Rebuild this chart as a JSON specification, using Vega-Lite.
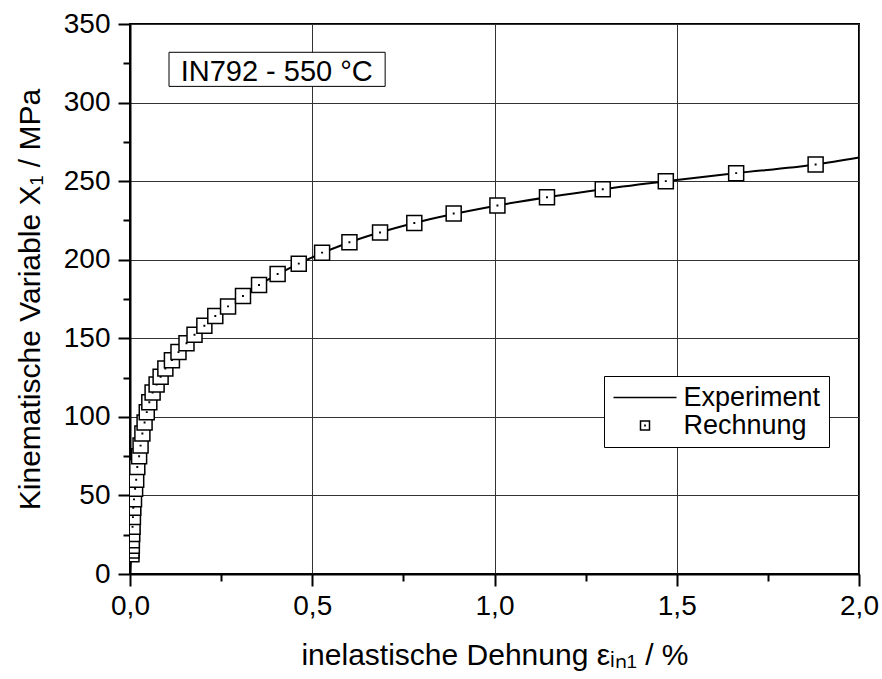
{
  "$schema": "https://vega.github.io/schema/vega-lite/v6.json",
  "width": 729,
  "height": 550,
  "autosize": {"type": "none"},
  "padding": {"left": 130, "top": 24, "right": 23, "bottom": 105},
  "background": "white",
  "config": {
    "font": "Liberation Sans",
    "view": {"stroke": "black", "strokeWidth": 2},
    "axis": {
      "domainColor": "black", "domainWidth": 2,
      "tickColor": "black", "tickWidth": 2,
      "labelColor": "black", "labelFont": "Liberation Sans", "labelFontSize": 28,
      "titleFont": "Liberation Sans", "titleFontSize": 30, "titleColor": "black", "titleFontWeight": "normal",
      "gridColor": "#333333", "gridWidth": 1, "gridOpacity": 1, "labelFlush": false
    }
  },
  "datasets": {
    "exp": [
      {"e": 0, "s": 0, "series": "Experiment"},
      {"e": 0.002, "s": 8, "series": "Experiment"},
      {"e": 0.004, "s": 15, "series": "Experiment"},
      {"e": 0.006, "s": 25.5, "series": "Experiment"},
      {"e": 0.008, "s": 36.2, "series": "Experiment"},
      {"e": 0.011, "s": 47.5, "series": "Experiment"},
      {"e": 0.017, "s": 60, "series": "Experiment"},
      {"e": 0.025, "s": 74.9, "series": "Experiment"},
      {"e": 0.034, "s": 89.4, "series": "Experiment"},
      {"e": 0.046, "s": 103, "series": "Experiment"},
      {"e": 0.062, "s": 115.5, "series": "Experiment"},
      {"e": 0.084, "s": 125.5, "series": "Experiment"},
      {"e": 0.115, "s": 136.1, "series": "Experiment"},
      {"e": 0.155, "s": 146.8, "series": "Experiment"},
      {"e": 0.204, "s": 158, "series": "Experiment"},
      {"e": 0.269, "s": 170.3, "series": "Experiment"},
      {"e": 0.354, "s": 183.9, "series": "Experiment"},
      {"e": 0.463, "s": 197.5, "series": "Experiment"},
      {"e": 0.602, "s": 211.1, "series": "Experiment"},
      {"e": 0.780, "s": 223.4, "series": "Experiment"},
      {"e": 1.008, "s": 234.5, "series": "Experiment"},
      {"e": 1.297, "s": 244.9, "series": "Experiment"},
      {"e": 1.470, "s": 250.0, "series": "Experiment"},
      {"e": 1.663, "s": 255.1, "series": "Experiment"},
      {"e": 1.881, "s": 260.6, "series": "Experiment"},
      {"e": 2.0, "s": 265, "series": "Experiment"}
    ],
    "calc": [
      {"e": 0.004, "s": 12.5, "series": "Rechnung"},
      {"e": 0.004, "s": 15, "series": "Rechnung"},
      {"e": 0.005, "s": 18, "series": "Rechnung"},
      {"e": 0.005, "s": 21.5, "series": "Rechnung"},
      {"e": 0.006, "s": 25.5, "series": "Rechnung"},
      {"e": 0.007, "s": 30, "series": "Rechnung"},
      {"e": 0.008, "s": 36.2, "series": "Rechnung"},
      {"e": 0.009, "s": 42.2, "series": "Rechnung"},
      {"e": 0.011, "s": 47.5, "series": "Rechnung"},
      {"e": 0.014, "s": 54.3, "series": "Rechnung"},
      {"e": 0.017, "s": 60, "series": "Rechnung"},
      {"e": 0.020, "s": 68.1, "series": "Rechnung"},
      {"e": 0.025, "s": 74.9, "series": "Rechnung"},
      {"e": 0.029, "s": 81.7, "series": "Rechnung"},
      {"e": 0.034, "s": 89.4, "series": "Rechnung"},
      {"e": 0.040, "s": 96.4, "series": "Rechnung"},
      {"e": 0.046, "s": 103, "series": "Rechnung"},
      {"e": 0.053, "s": 109.3, "series": "Rechnung"},
      {"e": 0.062, "s": 115.5, "series": "Rechnung"},
      {"e": 0.073, "s": 120.6, "series": "Rechnung"},
      {"e": 0.084, "s": 125.5, "series": "Rechnung"},
      {"e": 0.097, "s": 130.8, "series": "Rechnung"},
      {"e": 0.115, "s": 136.1, "series": "Rechnung"},
      {"e": 0.133, "s": 141.2, "series": "Rechnung"},
      {"e": 0.155, "s": 146.8, "series": "Rechnung"},
      {"e": 0.177, "s": 152.3, "series": "Rechnung"},
      {"e": 0.204, "s": 158, "series": "Rechnung"},
      {"e": 0.234, "s": 164.2, "series": "Rechnung"},
      {"e": 0.269, "s": 170.3, "series": "Rechnung"},
      {"e": 0.310, "s": 176.9, "series": "Rechnung"},
      {"e": 0.354, "s": 183.9, "series": "Rechnung"},
      {"e": 0.405, "s": 190.9, "series": "Rechnung"},
      {"e": 0.463, "s": 197.5, "series": "Rechnung"},
      {"e": 0.527, "s": 204.5, "series": "Rechnung"},
      {"e": 0.602, "s": 211.1, "series": "Rechnung"},
      {"e": 0.686, "s": 217.3, "series": "Rechnung"},
      {"e": 0.780, "s": 223.4, "series": "Rechnung"},
      {"e": 0.888, "s": 229.4, "series": "Rechnung"},
      {"e": 1.008, "s": 234.5, "series": "Rechnung"},
      {"e": 1.144, "s": 239.8, "series": "Rechnung"},
      {"e": 1.297, "s": 244.9, "series": "Rechnung"},
      {"e": 1.470, "s": 250.0, "series": "Rechnung"},
      {"e": 1.663, "s": 255.1, "series": "Rechnung"},
      {"e": 1.881, "s": 260.6, "series": "Rechnung"}
    ],
    "box": [{"x1": 0.107, "x2": 0.70, "y1": 310.3, "y2": 332.0, "label": "IN792 - 550 °C", "tx": 0.139, "ty": 313.5}]
  },
  "layer": [
    {
      "data": {"name": "exp"},
      "mark": {"type": "line", "strokeWidth": 2, "interpolate": "monotone"},
      "encoding": {
        "x": {
          "field": "e", "type": "quantitative",
          "scale": {"domain": [0, 2], "nice": false, "zero": false},
          "axis": {
            "values": [0, 0.5, 1, 1.5, 2], "grid": true, "tickSize": 12, "labelPadding": 6,
            "labelExpr": "replace(format(datum.value, '.1f'), '.', ',')",
            "title": "inelastische Dehnung εᵢₙ₁ / %", "titlePadding": 20
          }
        },
        "y": {
          "field": "s", "type": "quantitative",
          "scale": {"domain": [0, 350], "nice": false},
          "axis": {
            "values": [0, 50, 100, 150, 200, 250, 300, 350], "grid": true, "tickSize": 12, "labelPadding": 8,
            "title": "Kinematische Variable X₁ / MPa", "titlePadding": 18
          }
        },
        "stroke": {
          "field": "series", "type": "nominal",
          "scale": {"domain": ["Experiment", "Rechnung"], "range": ["black", "black"]},
          "legend": {
            "orient": "none", "legendX": 474, "legendY": 352, "title": null,
            "fillColor": "white", "strokeColor": "black", "padding": 8,
            "labelFont": "Liberation Sans", "labelFontSize": 27, "labelColor": "black",
            "symbolSize": 81, "symbolStrokeWidth": 1.5, "symbolFillColor": "white", "symbolStrokeColor": "black",
            "symbolOffset": 19.5, "labelOffset": 25, "rowPadding": 0
          }
        }
      }
    },
    {
      "data": {"name": "calc"},
      "mark": {"type": "point", "filled": true, "fill": "white", "strokeWidth": 1.5, "size": 225, "opacity": 1, "clip": true},
      "encoding": {
        "x": {
          "field": "e", "type": "quantitative",
          "axis": {"orient": "bottom", "values": [0.25, 0.75, 1.25, 1.75], "tickSize": 7, "labels": false, "domain": false, "grid": false, "title": null}
        },
        "y": {
          "field": "s", "type": "quantitative",
          "axis": {"orient": "left", "values": [25, 75, 125, 175, 225, 275, 325], "tickSize": 7, "labels": false, "domain": false, "grid": false, "title": null}
        },
        "stroke": {"field": "series", "type": "nominal"},
        "shape": {
          "field": "series", "type": "nominal",
          "scale": {"domain": ["Experiment", "Rechnung"], "range": ["M-7,0H7", "M-1,-1H1V1H-1Z M-0.03,-0.03H0.03V0.03H-0.03Z"]},
          "legend": {
            "orient": "none", "legendX": 474, "legendY": 352, "title": null,
            "fillColor": "white", "strokeColor": "black", "padding": 8,
            "labelFont": "Liberation Sans", "labelFontSize": 27, "labelColor": "black",
            "symbolSize": 81, "symbolStrokeWidth": 1.5, "symbolFillColor": "white", "symbolStrokeColor": "black",
            "symbolOffset": 19.5, "labelOffset": 25, "rowPadding": 0
          }
        }
      }
    },
    {
      "data": {"name": "box"},
      "mark": {"type": "rect", "fill": "white", "stroke": "black", "strokeWidth": 1},
      "encoding": {
        "x": {"field": "x1", "type": "quantitative", "axis": null},
        "x2": {"field": "x2"},
        "y": {"field": "y1", "type": "quantitative", "axis": null},
        "y2": {"field": "y2"}
      }
    },
    {
      "data": {"name": "box"},
      "mark": {"type": "text", "align": "left", "baseline": "alphabetic", "fontSize": 29, "font": "Liberation Sans", "color": "black"},
      "encoding": {
        "x": {"field": "tx", "type": "quantitative", "axis": null},
        "y": {"field": "ty", "type": "quantitative", "axis": null},
        "text": {"field": "label"}
      }
    }
  ],
  "resolve": {"axis": {"x": "independent", "y": "independent"}}
}
